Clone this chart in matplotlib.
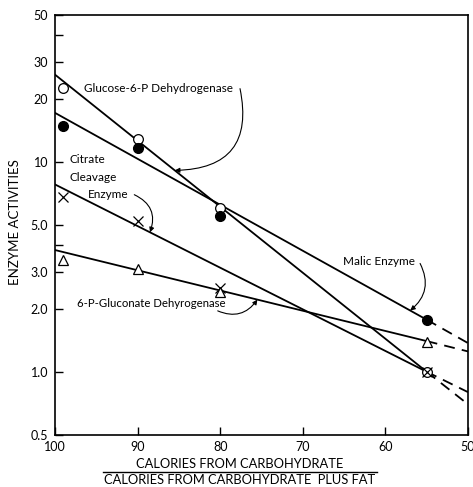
import numpy as np
import matplotlib
matplotlib.use('Agg')
import matplotlib.pyplot as plt
from matplotlib.lines import Line2D

plt.rcParams['font.family'] = ['Lato', 'DejaVu Sans']

# ---- measured activities ----------------------------------------------
x_pts = [99, 90, 80, 55]
g6pd = [22.5, 12.8, 6.0, 1.0]          # open circles
malic = [14.8, 11.6, 5.5, 1.77]        # filled circles
citrate = [6.8, 5.2, 2.5, 1.0]         # crosses
gluconate = [3.4, 3.1, 2.4, 1.38]      # open triangles

# ---- fitted lines (solid 100->55, dashed 55->50) ----------------------
x_fit = [100, 55, 50]
g6pd_fit = [26.0, 1.0, 0.70]
malic_fit = [17.1, 1.77, 1.37]
citrate_fit = [7.8, 1.0, 0.80]
gluconate_fit = [3.8, 1.4, 1.25]

y_ticks = [0.5, 1.0, 2.0, 3.0, 5.0, 10, 20, 30, 50]
y_ticklabels = ['0.5', '1.0', '2.0', '3.0', '5.0', '10', '20', '30', '50']
y_minor = [4, 40]
x_ticks = [100, 90, 80, 70, 60, 50]


def line_at(x, fit):
    # value of a fitted line at x (straight on the log axis)
    xs = np.array(x_fit[::-1], dtype=float)
    ys = np.log10(np.array(fit[::-1], dtype=float))
    return 10 ** np.interp(x, xs, ys)


W, H = 473, 487
fig = plt.figure(figsize=(W / 100, H / 100), dpi=100)
ax = fig.add_axes([55 / W, 1 - 435 / H, (468 - 55) / W, (435 - 15) / H])

for fit in [g6pd_fit, malic_fit, citrate_fit, gluconate_fit]:
    ax.plot(x_fit[:2], fit[:2], color='black', lw=1.3)
    ax.plot(x_fit[1:], fit[1:], color='black', lw=1.3, dashes=(6, 4))

ax.plot(x_pts, g6pd, 'o', ms=7, mfc='white', mec='black', mew=0.9)
ax.plot(x_pts, malic, 'o', ms=7, mfc='black', mec='black')
ax.plot(x_pts, citrate, 'x', ms=6.5, mec='black', mew=0.9)
ax.plot(x_pts, gluconate, '^', ms=7, mfc='white', mec='black', mew=0.9)

ax.set_yscale('log')
ax.set_xlim(100, 50)
ax.set_ylim(0.5, 50)
ax.set_yticks(y_ticks)
ax.set_yticklabels(y_ticklabels)
ax.set_yticks(y_minor, minor=True)
ax.yaxis.set_minor_formatter(matplotlib.ticker.NullFormatter())
ax.set_xticks(x_ticks)
ax.set_xticklabels([str(v) for v in x_ticks])
ax.tick_params(axis='both', which='both', direction='in', length=6, width=1,
               labelsize=9, color='black')
ax.tick_params(axis='y', pad=5)
ax.tick_params(axis='x', pad=4)
for s in ax.spines.values():
    s.set_linewidth(1.2)

# ---- labels with curved arrows ----------------------------------------
fs = 8.5
ax.text(96.5, 22.3, 'Glucose-6-P Dehydrogenase', fontsize=fs, ha='left', va='center')
ax.text(98.2, 10.2, 'Citrate', fontsize=fs, ha='left', va='center')
ax.text(98.2, 8.41, 'Cleavage', fontsize=fs, ha='left', va='center')
ax.text(96.0, 6.97, 'Enzyme', fontsize=fs, ha='left', va='center')
ax.text(65.1, 3.36, 'Malic Enzyme', fontsize=fs, ha='left', va='center')
ax.text(97.3, 2.11, '6-P-Gluconate Dehyrogenase', fontsize=8.2, ha='left', va='center')

arrows = [
    # (tail x, tail y, tip x, fitted line, curvature)
    (77.6, 22.3, 85.5, g6pd_fit, -0.6),
    (90.4, 6.97, 88.5, citrate_fit, -0.45),
    (55.8, 3.28, 57.0, malic_fit, -0.4),
    (80.3, 1.95, 75.5, gluconate_fit, 0.4),
]
for tx, ty, hx, fit, rad in arrows:
    ax.annotate('', xy=(hx, line_at(hx, fit)), xytext=(tx, ty),
                arrowprops=dict(arrowstyle='-|>', lw=0.8, color='black',
                                mutation_scale=7, shrinkA=0, shrinkB=0,
                                connectionstyle='arc3,rad=%s' % rad))

# ---- axis titles -------------------------------------------------------
fig.text(15 / W, 1 - 222 / H, 'ENZYME ACTIVITIES', rotation=90,
         ha='center', va='center', fontsize=9.5)
fig.text(240 / W, 1 - 464 / H, 'CALORIES FROM CARBOHYDRATE',
         ha='center', va='center', fontsize=9.3)
fig.add_artist(Line2D([103 / W, 377 / W], [1 - 472 / H, 1 - 472 / H],
                      color='black', lw=1.0))
fig.text(240 / W, 1 - 480 / H, 'CALORIES FROM CARBOHYDRATE  PLUS FAT',
         ha='center', va='center', fontsize=9.3)

fig.savefig('out.png', dpi=100)
